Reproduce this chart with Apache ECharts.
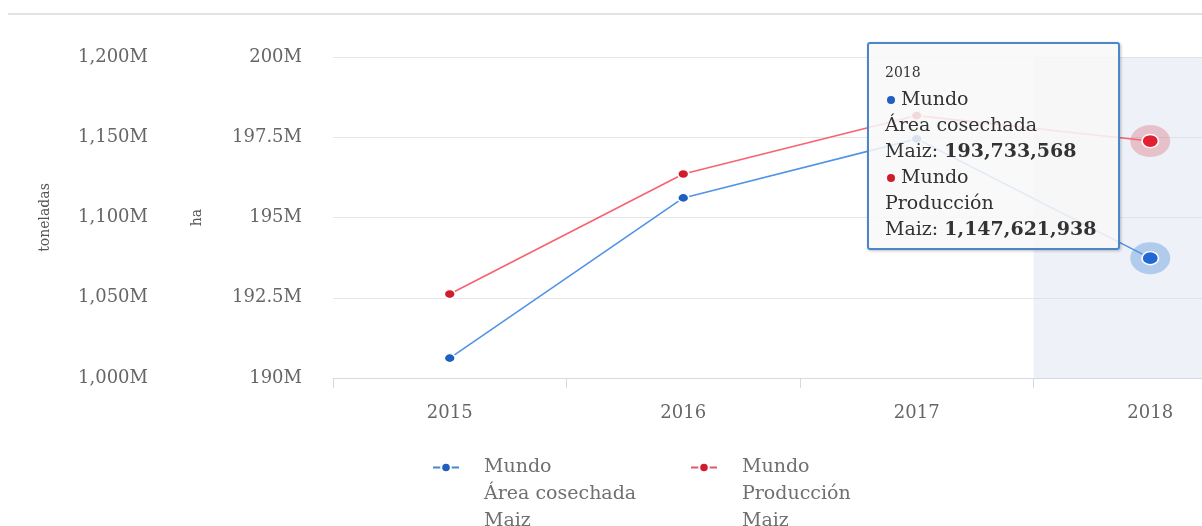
<!DOCTYPE html>
<html>
<head>
<meta charset="utf-8">
<script src="https://cdn.jsdelivr.net/npm/echarts@6/dist/echarts.min.js"></script>
<style>
  html, body { margin: 0; padding: 0; background: #ffffff; }
  #chart { width: 1202px; height: 526px; }
</style>
</head>
<body>
<div id="chart"></div>
<script>
// Años y series (Mundo, Maíz)
const years = ['2015', '2016', '2017', '2018'];
const areaCosechadaHa = [190620000, 195610000, 197450000, 193733568];
const produccionTon = [1052300000, 1127100000, 1163500000, 1147621938];

const seriesNames = ['Mundo\nÁrea cosechada\nMaiz', 'Mundo\nProducción\nMaiz'];
const axisNames = ['toneladas', 'ha'];

// Escalas de los ejes
const tonAxisScale = { min: 1000e6, max: 1200e6, interval: 50e6 };
const haAxisScale = { min: 190e6, max: 200e6, interval: 2.5e6 };

// Año resaltado con el tooltip
const activeIndex = 3;

const FONT = '"DejaVu Serif", "Liberation Serif", serif';
const BLUE_LINE = '#4a86d0';
const BLUE_DOT = '#1f5fc0';
const RED_LINE = '#e05a66';
const RED_DOT = '#cf1d2e';

const fmtM = v => (v / 1e6).toLocaleString('en-US') + 'M';
const fmtInt = v => Math.round(v).toLocaleString('en-US');
const onlyActive = arr => arr.map((v, i) => (i === activeIndex ? v : null));
const dotSize = (v, p) => (p.dataIndex === activeIndex ? [15, 12] : [11, 9]);

const chart = echarts.init(document.getElementById('chart'), null, { renderer: 'canvas' });

const yLabel = { color: '#666', fontFamily: FONT, fontSize: 18, margin: 31, formatter: fmtM };
const legendText = { color: '#707070', fontFamily: FONT, fontSize: 19, lineHeight: 27, padding: [0, 0, 0, 20] };
// Dos líneas vacías arriba para que el icono quede a la altura de la primera línea
const legendFormatter = name => '\n\n' + name;

chart.setOption({
  animation: false,
  backgroundColor: '#ffffff',
  graphic: [{
    type: 'line',
    shape: { x1: 8, y1: 14, x2: 1202, y2: 14 },
    style: { stroke: '#e3e3e3', lineWidth: 2 },
    silent: true
  }],
  grid: { left: 333, right: -65, top: 57, bottom: 148, outerBoundsMode: 'none' },
  xAxis: {
    type: 'category',
    data: years,
    boundaryGap: true,
    axisLine: { lineStyle: { color: '#d5d9e0', width: 1 } },
    axisTick: { show: true, length: 10, lineStyle: { color: '#d5d9e0' } },
    axisLabel: { color: '#666', fontFamily: FONT, fontSize: 18, margin: 26 }
  },
  yAxis: [
    {
      type: 'value',
      position: 'left',
      offset: 154,
      min: tonAxisScale.min, max: tonAxisScale.max, interval: tonAxisScale.interval,
      name: axisNames[0],
      nameLocation: 'middle',
      nameGap: 127,
      nameTextStyle: { color: '#555', fontFamily: FONT, fontSize: 14 },
      axisLine: { show: false },
      axisTick: { show: false },
      splitLine: { show: false },
      axisLabel: yLabel
    },
    {
      type: 'value',
      position: 'left',
      offset: 0,
      min: haAxisScale.min, max: haAxisScale.max, interval: haAxisScale.interval,
      name: axisNames[1],
      nameLocation: 'middle',
      nameGap: 129,
      nameTextStyle: { color: '#555', fontFamily: FONT, fontSize: 14 },
      axisLine: { show: false },
      axisTick: { show: false },
      splitLine: { show: true, lineStyle: { color: '#e6e6e6', width: 1 } },
      axisLabel: yLabel
    }
  ],
  legend: [
    {
      data: [seriesNames[0]],
      left: 427, top: 395,
      itemWidth: 26, itemHeight: 12,
      formatter: legendFormatter,
      textStyle: legendText
    },
    {
      data: [seriesNames[1]],
      left: 685, top: 395,
      itemWidth: 26, itemHeight: 12,
      formatter: legendFormatter,
      textStyle: legendText
    }
  ],
  tooltip: {
    trigger: 'axis',
    triggerOn: 'none',
    alwaysShowContent: true,
    transitionDuration: 0,
    position: [867, 42],
    backgroundColor: 'rgba(248,248,248,0.86)',
    borderColor: '#4a86c8',
    borderWidth: 2,
    padding: [15, 22, 7, 16],
    extraCssText: 'border-radius:3px;box-shadow:1px 1px 3px rgba(0,0,0,0.25);',
    textStyle: { color: '#333', fontFamily: FONT, fontSize: 19 },
    axisPointer: {
      type: 'shadow',
      z: 1,
      shadowStyle: { color: 'rgba(215,224,238,0.42)' }
    },
    formatter: params => {
      const rows = params.filter(p => p.seriesIndex < 2);
      const dots = [BLUE_DOT, RED_DOT];
      let html = '<div style="font-family:' + FONT.replace(/"/g, "'") + ';line-height:26px;color:#333">';
      html += '<div style="font-size:14px">' + rows[0].axisValue + '</div>';
      rows.forEach(p => {
        const parts = p.seriesName.split('\n');
        html += '<div style="font-size:19px"><span style="display:inline-block;width:8px;height:8px;border-radius:50%;background:' +
          dots[p.seriesIndex] + ';margin:0 6px 0 2px;vertical-align:middle"></span>' + parts[0] + '</div>';
        html += '<div style="font-size:19px">' + parts[1] + '</div>';
        html += '<div style="font-size:19px">' + parts[2] + ': <b>' + fmtInt(p.value) + '</b></div>';
      });
      html += '</div>';
      return html;
    }
  },
  series: [
    {
      name: seriesNames[0],
      type: 'line',
      yAxisIndex: 1,
      data: areaCosechadaHa,
      z: 4,
      symbol: 'circle',
      symbolSize: dotSize,
      color: BLUE_DOT,
      lineStyle: { color: BLUE_LINE, width: 1.6 },
      itemStyle: { color: BLUE_DOT, borderColor: '#ffffff', borderWidth: 1.5 }
    },
    {
      name: seriesNames[1],
      type: 'line',
      yAxisIndex: 0,
      data: produccionTon,
      z: 3,
      symbol: 'circle',
      symbolSize: dotSize,
      color: RED_DOT,
      lineStyle: { color: RED_LINE, width: 1.6 },
      itemStyle: { color: RED_DOT, borderColor: '#ffffff', borderWidth: 1.5 }
    },
    {
      name: 'halo-area',
      type: 'scatter',
      yAxisIndex: 1,
      data: onlyActive(areaCosechadaHa),
      symbolSize: [40, 32],
      z: 2,
      silent: true,
      tooltip: { show: false },
      itemStyle: { color: 'rgba(40,115,210,0.38)' }
    },
    {
      name: 'halo-produccion',
      type: 'scatter',
      yAxisIndex: 0,
      data: onlyActive(produccionTon),
      symbolSize: [40, 32],
      z: 2,
      silent: true,
      tooltip: { show: false },
      itemStyle: { color: 'rgba(210,40,60,0.3)' }
    }
  ]
});

chart.dispatchAction({ type: 'showTip', seriesIndex: 0, dataIndex: activeIndex });
</script>
</body>
</html>
